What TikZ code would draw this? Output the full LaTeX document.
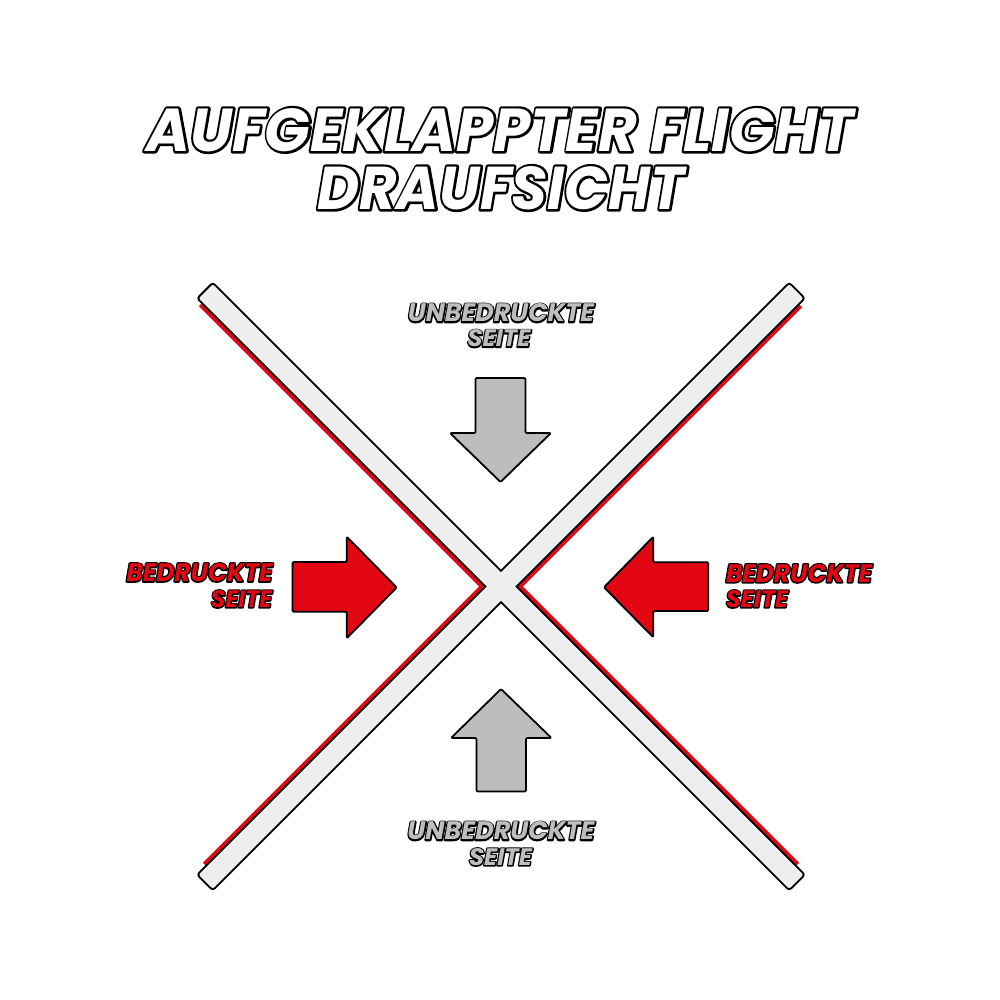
\documentclass[tikz,border=0pt]{standalone}
\usepackage{fontspec}
\newfontfamily\lblfont{Poppins}
\definecolor{fred}{HTML}{E30613}
\definecolor{agray}{HTML}{BDBDBD}
\definecolor{barfill}{HTML}{EEEEEE}
% outlined text: black stroke of width #3 behind, fill in colour #4 on top
\newcommand\outlined[5]{\resizebox{#1pt}{#2pt}{\rlap{\special{pdf:literal direct 0 0 0 RG 1 j #3 w 1 Tr}#5\special{pdf:literal direct 0 Tr}}{\color{#4}#5}}}
\tikzset{
  redstrip/.style={draw=fred, line width=6, miter limit=20},
  barline/.style={draw=black, line width=4, rounded corners=2},
  barbody/.style={fill=barfill, rounded corners=2},
  arrowshape/.style={draw=black, line width=1.8, rounded corners=1.2, line join=round},
  lbl/.style={inner sep=0pt, outer sep=0pt, font=\lblfont\bfseries\itshape\fontsize{20}{20}\selectfont}
}
\begin{document}
\begin{tikzpicture}[x=1pt,y=-1pt]
\useasboundingbox (0,0) rectangle (1000,1000);
\fill[white] (0,0) rectangle (1000,1000);
% title
\node[lbl] (t1) at (500,130) {\outlined{707}{43}{1.6}{white}{AUFGEKLAPPTER FLIGHT}};
\node[lbl] (t2) at (501,188) {\outlined{367}{43}{1.6}{white}{DRAUFSICHT}};
% red strips (printed side)
\draw[redstrip] (201,304.18) -- (483.32,586.5) -- (205,864.82);
\draw[redstrip] (800,305.18) -- (518.68,586.5) -- (797,864.82);
% bars: outline first, then fill (union outline)
\path[barline] (198.68,298.32) -- (789.18,888.82) -- (803.32,874.68) -- (212.82,284.18) -- cycle;
\path[barline] (803.32,298.32) -- (212.82,888.82) -- (198.68,874.68) -- (789.18,284.18) -- cycle;
\path[barbody] (198.68,298.32) -- (789.18,888.82) -- (803.32,874.68) -- (212.82,284.18) -- cycle;
\path[barbody] (803.32,298.32) -- (212.82,888.82) -- (198.68,874.68) -- (789.18,284.18) -- cycle;
% arrows
\path[arrowshape, fill=agray] (475.5,378) -- (525.5,378) -- (525.5,433) -- (551,433) -- (500.5,482) -- (450,433) -- (475.5,433) -- cycle;
\path[arrowshape, fill=agray] (476.5,791.5) -- (526,791.5) -- (526,738) -- (551.5,738) -- (501,689) -- (451,738) -- (476.5,738) -- cycle;
\path[arrowshape, fill=fred] (292.5,562) -- (346.7,562) -- (346.7,536.7) -- (396.7,587.5) -- (346.7,638.3) -- (346.7,611.7) -- (292.5,611.7) -- cycle;
\path[arrowshape, fill=fred] (708.3,562.3) -- (653.3,562.3) -- (653.3,536.7) -- (604,587.3) -- (653.3,637.3) -- (653.3,611) -- (708.3,611) -- cycle;
% labels
\node[lbl] (u1) at (501,313) {\outlined{186}{18}{2.2}{agray}{UNBEDRUCKTE}};
\node[lbl] (u2) at (499,338.5) {\outlined{63}{17}{2.2}{agray}{SEITE}};
\node[lbl] (d1) at (501,831) {\outlined{187}{18}{2.2}{agray}{UNBEDRUCKTE}};
\node[lbl] (d2) at (500.5,857) {\outlined{63}{17}{2.2}{agray}{SEITE}};
\node[lbl, anchor=east] (l1) at (272.5,572.5) {\outlined{146}{18}{2.2}{fred}{BEDRUCKTE}};
\node[lbl, anchor=east] (l2) at (272,599) {\outlined{61}{17}{2.2}{fred}{SEITE}};
\node[lbl, anchor=west] (r1) at (726,573.3) {\outlined{146}{18}{2.2}{fred}{BEDRUCKTE}};
\node[lbl, anchor=west] (r2) at (726,599) {\outlined{62}{17}{2.2}{fred}{SEITE}};
\end{tikzpicture}
\end{document}
